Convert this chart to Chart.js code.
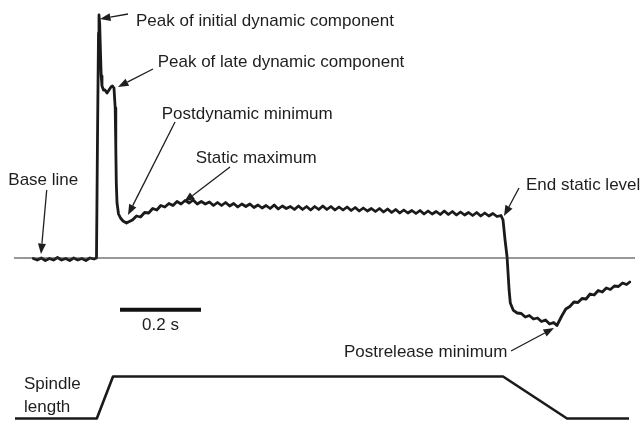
<!DOCTYPE html>
<html>
<head>
<meta charset="utf-8">
<title>Spindle response</title>
<script src="https://cdn.jsdelivr.net/npm/chart.js@4.4.1/dist/chart.umd.min.js"></script>
<style>
  html, body { margin: 0; padding: 0; background: #fff; }
  #wrap { width: 643px; height: 421px; }
</style>
</head>
<body>
<div id="wrap"><canvas id="trace" width="643" height="421"></canvas></div>
<script>
// time in ms, response in arbitrary units (0 = resting level)
const baseTime = [45, 55, 65, 75, 85, 95, 105, 115, 125, 135, 145, 155, 165, 175, 185, 195];
const baseRate = [-0.5, -2, 0, -2.5, -0.5, -2, 0.5, -2, -0.5, -2.5, 0, -2, -0.5, -2.5, 0, -1];

const burstTime = [201.2, 203.7, 206.2, 207.4, 209.1, 211.1, 212.8, 214.8, 218.5, 222.2, 227.2, 232.1,
  237.0, 240.7, 244.4, 247.4, 248.9, 250.1, 251.9, 255.6, 260.5, 266.7, 275.3];
const burstRate = [0, 120, 225, 243, 234, 205, 182, 172, 168, 168, 165, 168,
  171, 172, 170, 150, 110, 75, 55, 44, 40, 37, 35];

const staticTime = [280, 290, 300, 310, 320, 330, 340, 350, 360, 370, 380, 390, 400,
  410, 420, 430, 440, 450, 460, 470, 480, 490, 500,
  510, 520, 530, 540, 550, 560, 570, 580, 590, 600,
  610, 620, 630, 640, 650, 660, 670, 680, 690, 700,
  710, 720, 730, 740, 750, 760, 770, 780, 790, 800,
  810, 820, 830, 840, 850, 860, 870, 880, 890, 900,
  910, 920, 930, 940, 950, 960, 970, 980, 990, 1000,
  1010, 1020, 1030, 1040, 1050, 1060, 1070, 1080, 1090, 1100,
  1110, 1120, 1130, 1140, 1150, 1160, 1170, 1180, 1190, 1200];
const staticRate = [36, 38, 42, 41, 45.5, 45, 49.5, 48, 52.5, 51, 54.5, 52.5, 56.5,
  54, 57.5, 55, 58, 54, 56.5, 54, 56, 52.5, 55.5,
  52.5, 55.5, 52, 54.5, 51, 54, 51.5, 54, 50.5, 53,
  50, 52.5, 49.5, 53, 49, 52, 49.5, 51.5, 48.5, 52,
  48.5, 51.5, 48, 51.5, 48.5, 52, 48.5, 51.5, 48, 51,
  48, 51, 47.5, 50.5, 47, 50, 47, 49.5, 46.5, 49.5,
  46, 49, 45.5, 48.5, 45, 48, 45, 47.5, 44.5, 47.5,
  44, 47, 44, 46.5, 43.5, 47, 43.5, 46.5, 43, 46,
  43, 45.5, 42.5, 45.5, 42, 45, 42, 44.5, 41.5, 42.5];

const releaseTime = [1205, 1210, 1215, 1220, 1223, 1230, 1240, 1250, 1260, 1270, 1280, 1290,
  1300, 1310, 1320, 1330, 1338, 1350, 1360, 1370, 1380, 1390, 1400, 1410, 1420, 1430,
  1440, 1450, 1460, 1470, 1480, 1490, 1500, 1510, 1518];
const releaseRate = [38, 18, 1, -32, -45, -52, -55, -55.5, -59, -57.5, -61, -60,
  -63.5, -62, -66, -64.5, -67.5, -58, -51, -48.5, -44, -44.5, -40.5, -41, -36, -37,
  -32.5, -34, -30, -31.5, -28, -28.5, -25, -26.5, -24];

// spindle length (relative, 0 = resting, 1 = stretched)
const lengthTime = [0, 202, 242, 1205, 1363, 1516];
const lengthValue = [0, 0, 1, 1, 0, 0];

// resting reference line and 0.2 s scale bar
const refTime = [-2.5, 1531];
const refValue = [0, 0];
const barTime = [259.3, 459.3];
const barValue = [-51.7, -51.7];

const respTime = [...baseTime, ...burstTime, ...staticTime, ...releaseTime];
const respRate = [...baseRate, ...burstRate, ...staticRate, ...releaseRate];

const pts = (xs, ys) => xs.map((x, i) => ({ x: x, y: ys[i] }));

// labels: text at (t, v) left baseline; arrows from tail to tip
const notes = [
  { text: 'Peak of initial dynamic component', t: 298.8, v: 232.5 },
  { text: 'Peak of late dynamic component', t: 352.3, v: 191 },
  { text: 'Postdynamic minimum', t: 362.2, v: 139 },
  { text: 'Static maximum', t: 446.2, v: 95 },
  { text: 'Base line', t: -16.5, v: 73 },
  { text: 'End static level', t: 1261.7, v: 68 },
  { text: 'Postrelease minimum', t: 812.3, v: -98.5 },
  { text: 'Spindle', t: 22.2, v: -131.3 },
  { text: 'length', t: 22.2, v: -154 },
  { text: '0.2 s', t: 359.3, v: -72, align: 'center' }
];
const arrows = [
  { t0: 279.0, v0: 244, t1: 209.9, v1: 239 },
  { t0: 340.7, v0: 189, t1: 254.3, v1: 171 },
  { t0: 395.1, v0: 136, t1: 279.0, v1: 43 },
  { t0: 530.9, v0: 91, t1: 417.3, v1: 56 },
  { t0: 78.3, v0: 68, t1: 64.2, v1: 4 },
  { t0: 1244.4, v0: 70, t1: 1207.4, v1: 42 },
  { t0: 1224.7, v0: -93, t1: 1330.9, v1: -70 }
];

const notesPlugin = {
  id: 'notes',
  afterDatasetsDraw(chart) {
    const ctx = chart.ctx;
    const x = chart.scales.x, y = chart.scales.y;
    ctx.save();
    ctx.fillStyle = '#1e1e1e';
    ctx.strokeStyle = '#1e1e1e';
    ctx.font = '17px "Liberation Sans", Arial, sans-serif';
    ctx.textBaseline = 'alphabetic';
    notes.forEach(n => {
      ctx.textAlign = n.align || 'left';
      ctx.fillText(n.text, x.getPixelForValue(n.t), y.getPixelForValue(n.v));
    });
    ctx.lineWidth = 1.3;
    arrows.forEach(a => {
      const x0 = x.getPixelForValue(a.t0), y0 = y.getPixelForValue(a.v0);
      const x1 = x.getPixelForValue(a.t1), y1 = y.getPixelForValue(a.v1);
      const ang = Math.atan2(y1 - y0, x1 - x0);
      const head = 10.5, half = 4;
      const bx = x1 - head * Math.cos(ang), by = y1 - head * Math.sin(ang);
      ctx.beginPath();
      ctx.moveTo(x0, y0);
      ctx.lineTo(bx, by);
      ctx.stroke();
      ctx.beginPath();
      ctx.moveTo(x1, y1);
      ctx.lineTo(bx + half * Math.sin(ang), by - half * Math.cos(ang));
      ctx.lineTo(bx - half * Math.sin(ang), by + half * Math.cos(ang));
      ctx.closePath();
      ctx.fill();
    });
    ctx.restore();
  }
};

new Chart(document.getElementById('trace'), {
  type: 'line',
  data: {
    datasets: [
      {
        data: pts(refTime, refValue), yAxisID: 'y',
        borderColor: '#333', borderWidth: 1.2, pointRadius: 0
      },
      {
        data: pts(respTime, respRate), yAxisID: 'y',
        borderColor: '#1a1a1a', borderWidth: 2.8, pointRadius: 0,
        borderJoinStyle: 'round', borderCapStyle: 'round'
      },
      {
        data: pts(lengthTime, lengthValue), yAxisID: 'y2',
        borderColor: '#1a1a1a', borderWidth: 2.6, pointRadius: 0,
        borderJoinStyle: 'round'
      },
      {
        data: pts(barTime, barValue), yAxisID: 'y',
        borderColor: '#111', borderWidth: 4, pointRadius: 0,
        borderCapStyle: 'butt'
      }
    ]
  },
  plugins: [notesPlugin],
  options: {
    responsive: false,
    animation: false,
    layout: { padding: 0 },
    elements: { line: { tension: 0 } },
    scales: {
      x: { type: 'linear', display: false, min: -37.04, max: 1550.6 },
      y: { display: false, min: -163, max: 258 },
      y2: { display: false, min: -0.0595, max: 9.964 }
    },
    plugins: {
      legend: { display: false },
      tooltip: { enabled: false }
    }
  }
});
</script>
</body>
</html>
